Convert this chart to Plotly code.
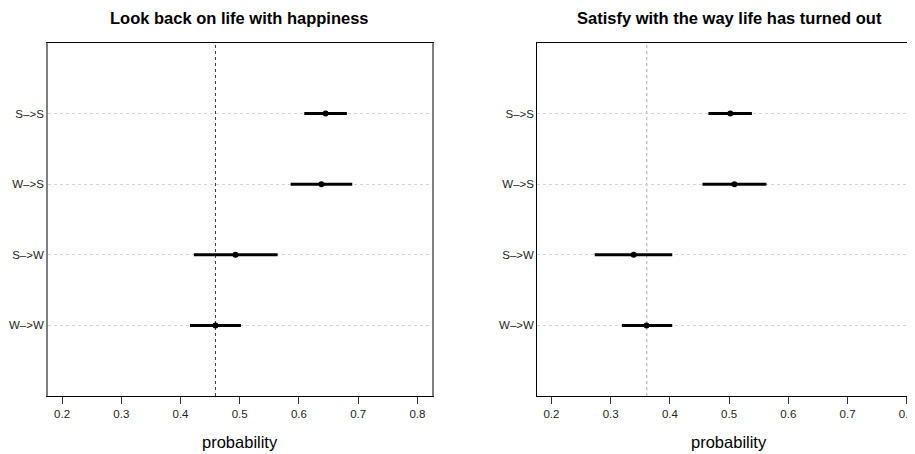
import plotly.graph_objects as go

# ---- data ----
rows = ["W–>W", "S–>W", "W–>S", "S–>S"]
row_pos = [1, 2, 3, 4]
x_ticks = [0.2, 0.3, 0.4, 0.5, 0.6, 0.7, 0.8]

titles = ["Look back on life with happiness", "Satisfy with the way life has turned out"]

left_est = [0.459, 0.493, 0.638, 0.645]
left_lo = [0.416, 0.4225, 0.586, 0.609]
left_hi = [0.502, 0.564, 0.690, 0.681]
left_ref = 0.459

right_est = [0.3605, 0.339, 0.509, 0.502]
right_lo = [0.319, 0.273, 0.455, 0.465]
right_hi = [0.404, 0.404, 0.563, 0.5385]
right_ref = 0.361

# page has an 8px body margin, so the figure is drawn 8px in from the top-left
OFF = 8
W, H = 915 - OFF, 454 - OFF
top, bottom = 43 - OFF, 396 - OFF
L0, L1 = 48 - OFF, 433 - OFF
R0, R1 = 539 - OFF, 924 - OFF
FONT = "Liberation Sans, Arial, Helvetica, sans-serif"

fig = go.Figure()

panels = [
    (left_est, left_lo, left_hi, left_ref, "x", "y", "#333333"),
    (right_est, right_lo, right_hi, right_ref, "x2", "y2", "#aaaaaa"),
]
for est, lo, hi, ref, xa, ya, refcol in panels:
    fig.add_trace(go.Scatter(
        x=est, y=row_pos, xaxis=xa, yaxis=ya, mode="markers",
        marker=dict(color="black", size=6),
        error_x=dict(type="data", symmetric=False,
                     array=[h - e for h, e in zip(hi, est)],
                     arrayminus=[e - l for e, l in zip(est, lo)],
                     color="black", thickness=3, width=0),
        showlegend=False, hoverinfo="skip",
    ))
    fig.add_shape(type="line", xref=xa, yref=ya + " domain", x0=ref, x1=ref, y0=0, y1=1,
                  line=dict(color=refcol, width=1, dash="dot"), layer="below")

axis_common = dict(
    tickvals=x_ticks, ticktext=[str(v) for v in x_ticks],
    showgrid=False, zeroline=False, showline=True, linecolor="black", linewidth=1,
    ticks="outside", ticklen=7, tickcolor="#333333", ticklabeloverflow="allow",
    tickfont=dict(family=FONT, size=11.5, color="#222222"),
)
yaxis_common = dict(
    range=[0, 5], tickvals=row_pos, ticktext=rows,
    showgrid=True, gridcolor="#d4d4d4", griddash="dot", gridwidth=1,
    zeroline=False, ticks="", showline=True,
    tickfont=dict(family=FONT, size=11.5, color="#222222"),
)

fig.update_layout(
    width=W, height=H,
    margin=dict(l=0, r=0, t=top, b=H - bottom),
    paper_bgcolor="white", plot_bgcolor="white",
    xaxis=dict(domain=[L0 / W, L1 / W], range=[0.176, 0.824], anchor="y",
               mirror=True, **axis_common),
    yaxis=dict(domain=[0, 1], anchor="x", mirror=True, linecolor="#808080", linewidth=1.5,
               **yaxis_common),
    xaxis2=dict(domain=[R0 / W, 1.0], range=[0.176, 0.176 + 0.648 * (W - R0) / (R1 - R0)],
                anchor="y2", mirror=True, **axis_common),
    yaxis2=dict(domain=[0, 1], anchor="x2", mirror=False, linecolor="black", linewidth=1,
                **yaxis_common),
)

ph = bottom - top
centers = [(L0 + L1) / 2 / W, (R0 + R1) / 2 / W]
for c, t in zip(centers, titles):
    fig.add_annotation(text="<b>%s</b>" % t, xref="paper", yref="paper",
                       x=c, y=bottom / ph, xanchor="center", yanchor="top",
                       showarrow=False, borderpad=0,
                       font=dict(family=FONT, size=16.5, color="black"))
    fig.add_annotation(text="probability", xref="paper", yref="paper",
                       x=c, y=(bottom - (442 - OFF)) / ph, xanchor="center", yanchor="middle",
                       showarrow=False, font=dict(family=FONT, size=16.5, color="black"))

fig.write_html("out.html")
